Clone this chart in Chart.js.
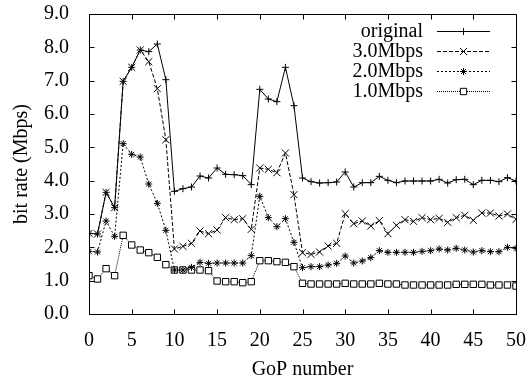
<!DOCTYPE html>
<html>
<head>
<meta charset="utf-8">
<script src="https://cdn.jsdelivr.net/npm/chart.js@4.4.1/dist/chart.umd.min.js"></script>
<style>
  html, body { margin: 0; padding: 0; background: #fff; }
  #wrap { width: 528px; height: 383px; }
</style>
</head>
<body>
<div id="wrap"><canvas id="c" width="528" height="383"></canvas></div>
<script>
// GoP index on the horizontal axis
const gop = [0,1,2,3,4,5,6,7,8,9,10,11,12,13,14,15,16,17,18,19,20,21,22,23,24,25,
             26,27,28,29,30,31,32,33,34,35,36,37,38,39,40,41,42,43,44,45,46,47,48,49,50];

// bit rate per GoP (Mbps)
const original = [2.42,2.40,3.65,3.19,6.98,7.40,7.92,7.87,8.10,7.03,3.68,
                  3.76,3.81,4.14,4.08,4.38,4.19,4.18,4.15,3.88,6.74,
                  6.45,6.37,7.40,6.25,4.08,3.97,3.93,3.94,3.96,4.26,
                  3.81,3.94,3.94,4.13,4.01,3.94,3.99,3.99,3.99,3.99,
                  4.04,3.93,4.03,4.04,3.88,4.01,4.01,3.97,4.09,3.99];
const rate3M = [2.42,2.40,3.65,3.19,6.98,7.40,7.92,7.57,6.76,5.23,1.95,
                2.03,2.12,2.49,2.41,2.52,2.89,2.83,2.86,2.54,4.38,
                4.34,4.24,4.83,3.58,1.84,1.79,1.86,2.04,2.12,3.01,
                2.71,2.79,2.64,2.80,2.41,2.66,2.83,2.78,2.89,2.83,
                2.87,2.75,2.89,2.96,2.81,3.03,3.03,2.94,3.00,2.84];
const rate2M = [1.88,1.86,2.79,2.33,5.11,4.79,4.71,3.90,3.32,2.51,1.32,
                1.32,1.40,1.55,1.52,1.53,1.53,1.53,1.53,1.75,3.53,
                2.89,2.62,2.86,2.15,1.39,1.42,1.42,1.47,1.52,1.74,
                1.53,1.59,1.69,1.90,1.85,1.85,1.85,1.85,1.88,1.90,
                1.95,1.92,1.97,1.92,1.86,1.90,1.87,1.87,2.00,1.97];
const rate1M = [1.15,1.05,1.36,1.15,2.36,2.07,1.92,1.84,1.70,1.48,1.32,
                1.32,1.32,1.32,1.30,0.99,0.97,0.97,0.94,0.97,1.60,
                1.60,1.57,1.55,1.42,0.92,0.90,0.90,0.90,0.90,0.92,
                0.90,0.90,0.90,0.92,0.90,0.90,0.87,0.87,0.87,0.87,
                0.87,0.87,0.89,0.89,0.89,0.89,0.87,0.87,0.87,0.84];

const seriesNames = ['original', '3.0Mbps', '2.0Mbps', '1.0Mbps'];
const xTicks = [0,5,10,15,20,25,30,35,40,45,50];
const yTicks = [0,1,2,3,4,5,6,7,8,9];

const FONT = "'Liberation Serif', 'Times New Roman', serif";

function pts(vals) { return vals.map((v, i) => ({ x: gop[i], y: v })); }

const styles = [
  { dash: [],     point: 'cross',    radius: 3.5 },
  { dash: [4, 2], point: 'crossRot', radius: 5 },
  { dash: [2, 2], point: 'star',     radius: 3.5 },
  { dash: [1, 1], point: 'rect',     radius: 4.5 }
];
const values = [original, rate3M, rate2M, rate1M];

const datasets = values.map((v, i) => ({
  label: seriesNames[i],
  data: pts(v),
  borderColor: '#000',
  borderWidth: 1,
  borderDash: styles[i].dash,
  pointStyle: styles[i].point,
  pointRadius: styles[i].radius,
  pointHoverRadius: styles[i].radius,
  pointBorderColor: '#000',
  pointBackgroundColor: '#fff',
  pointBorderWidth: 1,
  tension: 0,
  fill: false
}));

function marker(ctx, style, r, x, y) {
  ctx.save();
  ctx.setLineDash([]);
  ctx.lineWidth = 1;
  ctx.strokeStyle = '#000';
  ctx.fillStyle = '#fff';
  ctx.beginPath();
  const d = r * Math.SQRT1_2;
  if (style === 'cross' || style === 'star') {
    ctx.moveTo(x - r, y); ctx.lineTo(x + r, y);
    ctx.moveTo(x, y - r); ctx.lineTo(x, y + r);
  }
  if (style === 'crossRot' || style === 'star') {
    ctx.moveTo(x - d, y - d); ctx.lineTo(x + d, y + d);
    ctx.moveTo(x - d, y + d); ctx.lineTo(x + d, y - d);
  }
  if (style === 'rect') {
    ctx.rect(x - d, y - d, 2 * d, 2 * d);
    ctx.fill();
  }
  ctx.stroke();
  ctx.restore();
}

// plot frame with inward tick marks on all four sides
const framePlugin = {
  id: 'frame',
  afterDatasetsDraw(chart) {
    const { ctx, chartArea: a, scales } = chart;
    ctx.save();
    ctx.strokeStyle = '#000';
    ctx.lineWidth = 1;
    ctx.setLineDash([]);
    ctx.beginPath();
    const L = Math.round(a.left) + 0.5, R = Math.round(a.right) + 0.5;
    const T = Math.round(a.top) + 0.5, B = Math.round(a.bottom) + 0.5;
    ctx.rect(L, T, R - L, B - T);
    const tl = 5;
    xTicks.forEach(v => {
      const px = Math.round(scales.x.getPixelForValue(v)) + 0.5;
      ctx.moveTo(px, B); ctx.lineTo(px, B - tl);
      ctx.moveTo(px, T); ctx.lineTo(px, T + tl);
    });
    yTicks.forEach(v => {
      const py = Math.round(scales.y.getPixelForValue(v)) + 0.5;
      ctx.moveTo(L, py); ctx.lineTo(L + tl, py);
      ctx.moveTo(R, py); ctx.lineTo(R - tl, py);
    });
    ctx.stroke();
    ctx.restore();
  }
};

// key in the upper right corner: right-aligned name, then line sample with marker
const keyPlugin = {
  id: 'key',
  afterDraw(chart) {
    const { ctx } = chart;
    const textRight = 423, x0 = 437, x1 = 490, top = 30.5, step = 20;
    ctx.save();
    ctx.font = '20px ' + FONT;
    ctx.fillStyle = '#000';
    ctx.textAlign = 'right';
    ctx.textBaseline = 'middle';
    seriesNames.forEach((name, i) => {
      const y = top + step * i;
      ctx.fillText(name, textRight, y + 1);
      ctx.save();
      ctx.strokeStyle = '#000';
      ctx.lineWidth = 1;
      ctx.setLineDash(styles[i].dash);
      ctx.beginPath();
      ctx.moveTo(x0, Math.round(y) + 0.5);
      ctx.lineTo(x1, Math.round(y) + 0.5);
      ctx.stroke();
      ctx.restore();
      marker(ctx, styles[i].point, styles[i].radius, (x0 + x1) / 2, Math.round(y) + 0.5);
    });
    ctx.restore();
  }
};

new Chart(document.getElementById('c'), {
  type: 'line',
  data: { datasets },
  options: {
    responsive: false,
    animation: false,
    layout: { padding: { top: 14, right: 12, left: 0, bottom: 0 } },
    plugins: { legend: { display: false }, tooltip: { enabled: false } },
    scales: {
      x: {
        type: 'linear',
        min: 0, max: 50,
        afterFit: s => { s.height = 69; s.paddingLeft = 0; s.paddingRight = 0; },
        afterBuildTicks: s => { s.ticks = xTicks.map(v => ({ value: v })); },
        ticks: { color: '#000', font: { family: FONT, size: 20 }, padding: 7, maxRotation: 0,
                 callback: v => String(v) },
        grid: { display: false },
        border: { display: false },
        title: { display: true, text: 'GoP number', color: '#000',
                 font: { family: FONT, size: 20 }, padding: { top: 0, bottom: 1 } }
      },
      y: {
        type: 'linear',
        min: 0, max: 9,
        afterFit: s => { s.width = 89; s.paddingTop = 0; s.paddingBottom = 0; },
        afterBuildTicks: s => { s.ticks = yTicks.map(v => ({ value: v })); },
        ticks: { color: '#000', font: { family: FONT, size: 20 }, padding: 12,
                 callback: v => Number(v).toFixed(1) },
        grid: { display: false },
        border: { display: false },
        title: { display: true, text: 'bit rate (Mbps)', color: '#000',
                 font: { family: FONT, size: 20 }, padding: { top: 10, bottom: 0 } }
      }
    }
  },
  plugins: [framePlugin, keyPlugin]
});
</script>
</body>
</html>
